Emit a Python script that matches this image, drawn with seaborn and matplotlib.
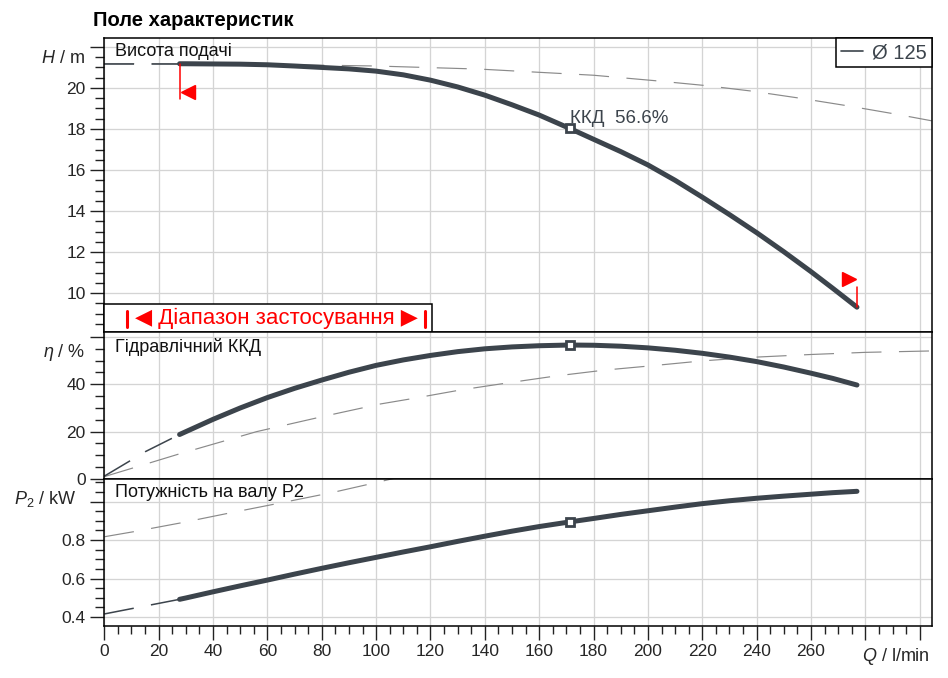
import matplotlib
matplotlib.use("Agg")
import matplotlib.pyplot as plt
import matplotlib.transforms as mtransforms
import numpy as np
import seaborn as sns
from matplotlib.lines import Line2D
from matplotlib.patches import Rectangle

# ---- data ----
# flow rate points of the operating curves (l/min)
q = [27.7, 30, 40, 50, 60, 70, 80, 90, 100, 110, 120, 130, 140, 150, 160, 171.2,
     180, 190, 200, 210, 220, 230, 240, 250, 260, 268, 276.9]
head = [21.18, 21.18, 21.17, 21.16, 21.13, 21.07, 21.0, 20.93, 20.82, 20.64, 20.38, 20.05,
        19.65, 19.18, 18.68, 18.03, 17.5, 16.9, 16.25, 15.5, 14.68, 13.83, 12.95, 12.02,
        11.05, 10.24, 9.32]
eta = [18.8, 20.0, 25.2, 30.0, 34.4, 38.3, 41.8, 45.1, 48.0, 50.3, 52.2, 53.8, 55.0, 55.8,
       56.3, 56.6, 56.5, 56.1, 55.4, 54.4, 53.1, 51.5, 49.6, 47.3, 44.7, 42.5, 39.7]
p2 = [0.492, 0.499, 0.531, 0.562, 0.592, 0.623, 0.653, 0.682, 0.71, 0.738, 0.765, 0.793,
      0.82, 0.846, 0.87, 0.894, 0.912, 0.933, 0.952, 0.971, 0.989, 1.004, 1.017, 1.028,
      1.038, 1.046, 1.053]
bep_index = 15  # ККД 56.6 %

# dashed run-in of the curves below the operating range
q_head_ext = [0, 27.7]
head_ext = [21.18, 21.18]
q_eta_ext = [0, 9.5, 15, 27.7]
eta_ext = [1.2, 7.7, 11.5, 18.8]
q_p2_ext = [0, 27.7]
p2_ext = [0.416, 0.492]

# thin grey dashed comparison curves
q_head_full = [0, 20, 60, 100, 138, 180, 203, 221, 238, 256, 273.5, 291, 304.4]
head_full = [21.18, 21.18, 21.15, 21.07, 20.92, 20.62, 20.35, 20.12, 19.85, 19.5, 19.13, 18.73, 18.4]
q_eta_full = [0, 17, 27, 56, 80, 101.6, 114, 131, 149, 166, 184, 202, 220, 240, 260, 280, 304.4]
eta_full = [1.0, 6.9, 10.4, 20.0, 26.3, 31.7, 34.1, 37.6, 40.7, 43.5, 46.0, 47.9, 49.9, 51.5, 52.6, 53.5, 54.1]
q_p2_full = [0, 10.7, 28.5, 45.6, 67.1, 84.3, 101.4, 108]
p2_full = [0.817, 0.843, 0.890, 0.939, 0.999, 1.048, 1.103, 1.125]

x_ticks = list(range(0, 301, 20))
x_labels = [str(v) if v <= 260 else "" for v in x_ticks]

# ---- style ----
sns.set_theme(style="white")
plt.rcParams["font.family"] = ["Liberation Sans", "DejaVu Sans"]
plt.rcParams["mathtext.fontset"] = "custom"
plt.rcParams["mathtext.rm"] = "Liberation Sans"
plt.rcParams["mathtext.it"] = "Liberation Sans:italic"
plt.rcParams["lines.scale_dashes"] = False

CURVE = "#3c444c"
GREY = "#8a8a8a"
GRID = "#d4d4d4"
RED = "#ff0000"
DASH = (21.6, 12.6)
TICK_FS = 12.5
LABEL_FS = 13

fig = plt.figure(figsize=(9.48, 6.78), dpi=100)
W, H = 948, 678
left = 104.3 / W
width = (931.7 - 104.3) / W


def make_axes(top_px, bottom_px):
    return fig.add_axes([left, 1 - bottom_px / H, width, (bottom_px - top_px) / H])


ax_h = make_axes(38.3, 332)
ax_e = make_axes(332, 479)
ax_p = make_axes(479, 625.7)


def curve(ax, x, y, dashed=False, **kw):
    sns.lineplot(x=x, y=y, ax=ax, estimator=None, sort=False, **kw)
    line = ax.lines[-1]
    if dashed:
        line.set_dashes(DASH)
    return line


for ax in (ax_h, ax_e, ax_p):
    ax.set_xlim(0, 304.4)
    ax.set_xticks(x_ticks)
    ax.set_xticks(np.arange(0, 305, 5), minor=True)
    ax.grid(True, which="major", color=GRID, lw=0.95)
    ax.set_axisbelow(True)
    for s in ax.spines.values():
        s.set_color("black")
        s.set_linewidth(1.1)
    ax.tick_params(axis="y", which="major", direction="out", length=10, width=1.0,
                   color="#222222", labelsize=TICK_FS, pad=3.5, left=True)
    ax.tick_params(axis="y", which="minor", direction="out", length=6.5, width=1.0,
                   color="#222222", left=True)

for ax in (ax_h, ax_e):
    ax.tick_params(axis="x", which="both", length=0, labelbottom=False, bottom=False)

ax_p.set_xticks(x_ticks, x_labels)
ax_p.tick_params(axis="x", which="major", direction="out", length=10, width=1.0,
                 color="#222222", labelsize=TICK_FS, pad=3.0, bottom=True)
ax_p.tick_params(axis="x", which="minor", direction="out", length=6, width=1.0,
                 color="#222222", bottom=True)

# ---- head panel ----
curve(ax_h, q_head_full, head_full, dashed=True, color=GREY, lw=0.85)
curve(ax_h, q_head_ext, head_ext, dashed=True, color=CURVE, lw=1.1)
curve(ax_h, q, head, color=CURVE, lw=3.6, solid_capstyle="round")
ax_h.plot(q[bep_index], head[bep_index], marker="s", ms=5.5, mew=2.0,
          mfc="white", mec=CURVE, zorder=5)
ax_h.annotate("ККД  56.6%", (q[bep_index], head[bep_index]), xytext=(0, 4),
              textcoords="offset points", ha="left", va="baseline",
              fontsize=13.5, color=CURVE)

# red limits of the operating range
q0, h0 = q[0], head[0]
q1, h1 = q[-1], head[-1]
ax_h.plot([q0, q0], [h0, h0 - 1.7], color=RED, lw=1.1, zorder=4)
ax_h.plot(q0, h0, marker="<", ms=10, color=RED, zorder=4,
          transform=mtransforms.offset_copy(ax_h.transData, fig, x=5.8, y=-20.5, units="points"))
ax_h.plot([q1, q1], [h1, h1 + 1.0], color=RED, lw=1.1, zorder=4)
ax_h.plot(q1, h1, marker=">", ms=10, color=RED, zorder=4,
          transform=mtransforms.offset_copy(ax_h.transData, fig, x=-5.5, y=20.0, units="points"))

ax_h.set_ylim(8.11, 22.42)
ax_h.set_yticks([10, 12, 14, 16, 18, 20, 22], ["10", "12", "14", "16", "18", "20", ""])
ax_h.set_yticks(np.arange(8.5, 22.01, 0.5), minor=True)

# range box
ax_h.add_patch(Rectangle((0, 0), 0.3957, 0.0953, transform=ax_h.transAxes,
                         facecolor="white", edgecolor="black", lw=1.1, zorder=6, clip_on=False))
ax_h.text(0.2075, 0.047, "◀ Діапазон застосування ▶", transform=ax_h.transAxes,
          ha="center", va="center", color=RED, fontsize=16, zorder=7)
for xb in (0.0271, 0.3874):
    ax_h.plot([xb, xb], [0.016, 0.072], transform=ax_h.transAxes, color=RED, lw=2.2, zorder=7)

leg = ax_h.legend(handles=[Line2D([], [], color=CURVE, lw=1.2)], labels=["Ø 125"],
                  loc="upper right", borderaxespad=0, fancybox=False, framealpha=1,
                  edgecolor="black", fontsize=14.5, handlelength=1.1, handletextpad=0.45,
                  borderpad=0.25, labelcolor=CURVE)
leg.get_frame().set_linewidth(1.1)
leg.set_zorder(8)

# ---- efficiency panel ----
curve(ax_e, q_eta_full, eta_full, dashed=True, color=GREY, lw=0.85)
curve(ax_e, q_eta_ext, eta_ext, dashed=True, color=CURVE, lw=1.1)
curve(ax_e, q, eta, color=CURVE, lw=3.6, solid_capstyle="round")
ax_e.plot(q[bep_index], eta[bep_index], marker="s", ms=5.5, mew=2.0,
          mfc="white", mec=CURVE, zorder=5)
ax_e.set_ylim(0, 62.1)
ax_e.set_yticks([0, 20, 40, 60], ["0", "20", "40", ""])
ax_e.set_yticks(np.arange(5, 61, 5), minor=True)

# ---- power panel ----
curve(ax_p, q_p2_full, p2_full, dashed=True, color=GREY, lw=0.85)
curve(ax_p, q_p2_ext, p2_ext, dashed=True, color=CURVE, lw=1.1)
curve(ax_p, q, p2, color=CURVE, lw=3.6, solid_capstyle="round")
ax_p.plot(q[bep_index], p2[bep_index], marker="s", ms=5.5, mew=2.0,
          mfc="white", mec=CURVE, zorder=5)
ax_p.set_ylim(0.355, 1.117)
ax_p.set_yticks([0.4, 0.6, 0.8, 1.0], ["0.4", "0.6", "0.8", ""])
ax_p.set_yticks(np.arange(0.45, 1.11, 0.05), minor=True)

for ax in (ax_h, ax_e, ax_p):
    ax.set_xlabel("")
    ax.set_ylabel("")

# ---- texts ----
fig.text(93 / W, 1 - 20 / H, "Поле характеристик", fontsize=14.5, fontweight="bold",
         ha="left", va="center", color="black")
for label, base in (("Висота подачі", 55.7), ("Гідравлічний ККД", 351.7),
                    ("Потужність на валу P2", 496.7)):
    fig.text(115 / W, 1 - base / H, label, fontsize=13, ha="left", va="baseline",
             color="#111111")

fig.text(85 / W, 1 - 63.3 / H, "$H$ / m", fontsize=LABEL_FS, ha="right", va="baseline")
fig.text(85 / W, 1 - 357.3 / H, r"$\eta$ / %", fontsize=LABEL_FS, ha="right", va="baseline")
fig.text(76 / W, 1 - 504.3 / H, "$P_2$ / kW", fontsize=LABEL_FS, ha="right", va="baseline")
fig.text(930 / W, 1 - 660.7 / H, "$Q$ / l/min", fontsize=LABEL_FS, ha="right", va="baseline")

fig.savefig("out.png", dpi=100)
